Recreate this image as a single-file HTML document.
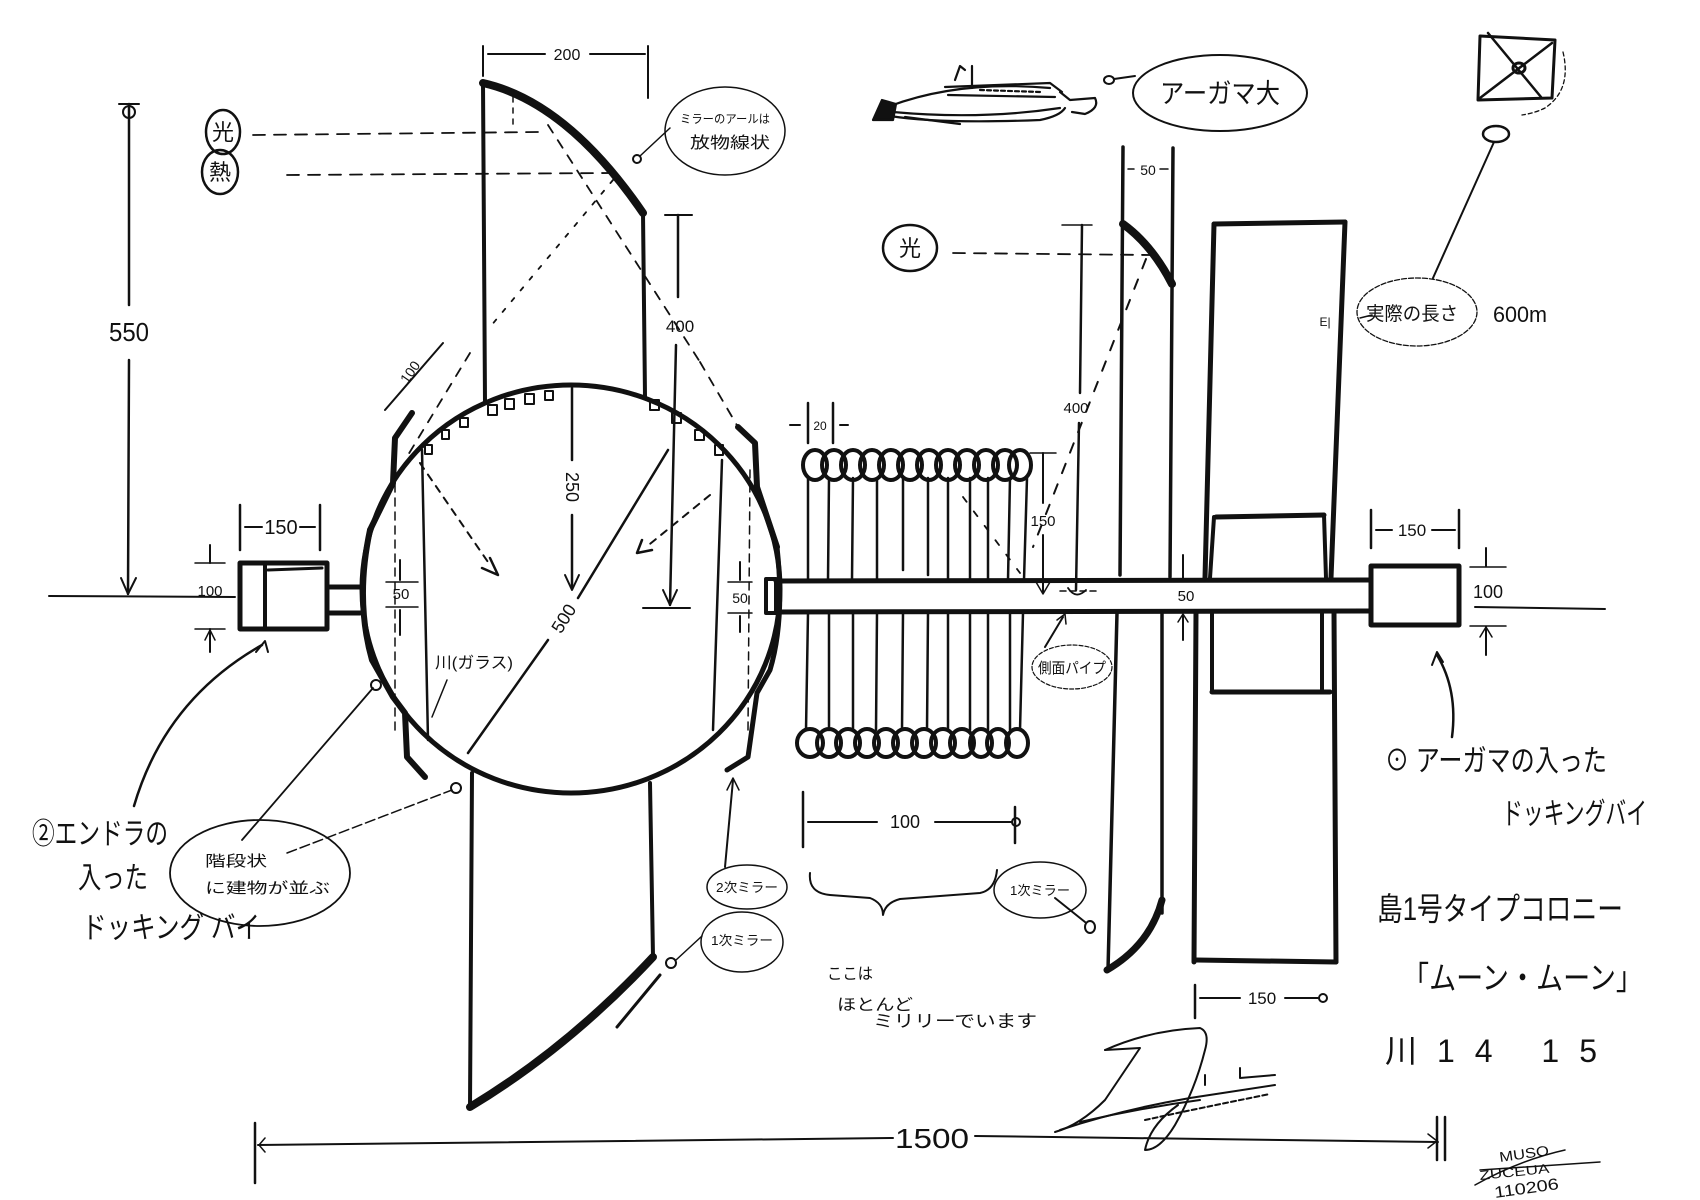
<!DOCTYPE html>
<html><head><meta charset="utf-8">
<style>
html,body{margin:0;padding:0;background:#fff;}
svg{display:block;}
text{font-family:"Liberation Sans","Noto Sans CJK JP",sans-serif;fill:#111;}
</style></head>
<body>
<svg width="1700" height="1200" viewBox="0 0 1700 1200" xmlns="http://www.w3.org/2000/svg">
<rect width="1700" height="1200" fill="#fff"/>
<g fill="none" stroke="#111" stroke-linecap="round" stroke-linejoin="round">

<!-- 550 dimension -->
<line x1="129" y1="104" x2="129" y2="305" stroke-width="2.5"/>
<line x1="129" y1="360" x2="128" y2="594" stroke-width="2.5"/>
<line x1="119" y1="104" x2="139" y2="104" stroke-width="2"/>
<circle cx="129" cy="112" r="6" stroke-width="2"/>
<polyline points="121,578 128,594 136,578" stroke-width="2"/>

<!-- left axis line -->
<line x1="49" y1="596" x2="235" y2="597" stroke-width="2"/>
<!-- right axis line -->
<line x1="1475" y1="607" x2="1605" y2="609" stroke-width="2"/>

<!-- left docking bay -->
<rect x="240" y="563" width="87" height="66" stroke-width="5"/>
<line x1="265" y1="563" x2="265" y2="629" stroke-width="4"/>
<line x1="268" y1="570" x2="322" y2="568" stroke-width="3"/>
<line x1="330" y1="587" x2="360" y2="587" stroke-width="5"/>
<line x1="330" y1="613" x2="360" y2="613" stroke-width="5"/>
<line x1="240" y1="505" x2="240" y2="550" stroke-width="2.5"/>
<line x1="320" y1="505" x2="320" y2="550" stroke-width="2.5"/>
<line x1="245" y1="527" x2="262" y2="527" stroke-width="2"/>
<line x1="300" y1="527" x2="315" y2="527" stroke-width="2"/>
<line x1="195" y1="563" x2="225" y2="563" stroke-width="1.5"/>
<line x1="195" y1="629" x2="225" y2="629" stroke-width="1.5"/>
<line x1="210" y1="545" x2="210" y2="563" stroke-width="2"/>
<line x1="210" y1="629" x2="210" y2="652" stroke-width="2"/>
<polyline points="205,640 210,630 215,640" stroke-width="1.5"/>

<!-- big circle -->
<ellipse cx="571" cy="589" rx="209" ry="204" stroke-width="5"/>
<g stroke-width="2">
<rect x="488" y="405" width="9" height="10"/>
<rect x="505" y="399" width="9" height="10"/>
<rect x="525" y="394" width="9" height="10"/>
<rect x="545" y="391" width="8" height="9"/>
<rect x="460" y="418" width="8" height="9"/>
<rect x="442" y="430" width="7" height="9"/>
<rect x="425" y="445" width="7" height="9"/>
<rect x="650" y="400" width="9" height="10"/>
<rect x="672" y="413" width="9" height="10"/>
<rect x="695" y="430" width="9" height="10"/>
<rect x="715" y="445" width="8" height="10"/>
</g>
<polyline points="412,413 395,438 393,483 370,530" stroke-width="6"/>
<path d="M370,530 Q355,600 372,660 L393,697 L405,713 L407,757 L425,777" stroke-width="6"/>
<polyline points="738,427 755,443 757,487 777,547" stroke-width="6"/>
<path d="M777,547 Q785,620 770,670 L757,693 L748,757 L727,770" stroke-width="5"/>
<line x1="422" y1="450" x2="428" y2="740" stroke-width="2.5"/>
<line x1="722" y1="460" x2="713" y2="730" stroke-width="2.5"/>
<line x1="395" y1="470" x2="395" y2="730" stroke-width="1.5" stroke-dasharray="8 6"/>
<line x1="750" y1="470" x2="748" y2="730" stroke-width="1.5" stroke-dasharray="8 6"/>
<line x1="572" y1="388" x2="572" y2="460" stroke-width="2.5"/>
<line x1="572" y1="515" x2="572" y2="588" stroke-width="2.5"/>
<polyline points="565,575 572,590 579,575" stroke-width="2"/>
<line x1="468" y1="753" x2="548" y2="640" stroke-width="2.5"/>
<line x1="578" y1="598" x2="668" y2="450" stroke-width="2.5"/>
<line x1="678" y1="215" x2="678" y2="297" stroke-width="2.5"/>
<line x1="676" y1="345" x2="670" y2="605" stroke-width="2.5"/>
<line x1="665" y1="215" x2="692" y2="215" stroke-width="2"/>
<line x1="643" y1="608" x2="690" y2="608" stroke-width="2"/>
<polyline points="663,590 670,605 677,590" stroke-width="2"/>
<line x1="420" y1="463" x2="490" y2="565" stroke-width="2" stroke-dasharray="7 7"/>
<path d="M482,568 L498,575 L490,558" stroke-width="2.5"/>
<line x1="710" y1="495" x2="645" y2="548" stroke-width="2" stroke-dasharray="7 7"/>
<path d="M642,540 L637,553 L652,550" stroke-width="2.5"/>
<line x1="386" y1="582" x2="418" y2="582" stroke-width="1.5"/>
<line x1="386" y1="607" x2="418" y2="607" stroke-width="1.5"/>
<line x1="400" y1="560" x2="400" y2="580" stroke-width="2"/>
<line x1="400" y1="610" x2="400" y2="635" stroke-width="2"/>
<line x1="728" y1="582" x2="752" y2="582" stroke-width="1.5"/>
<line x1="728" y1="613" x2="752" y2="613" stroke-width="1.5"/>
<line x1="740" y1="562" x2="740" y2="580" stroke-width="2"/>
<line x1="740" y1="616" x2="740" y2="632" stroke-width="2"/>
<line x1="447" y1="680" x2="432" y2="717" stroke-width="1.5"/>
<rect x="766" y="579" width="10" height="34" stroke-width="4"/>

<line x1="385" y1="410" x2="443" y2="343" stroke-width="2"/>

<!-- top mirror -->
<line x1="483" y1="83" x2="485" y2="403" stroke-width="4"/>
<line x1="643" y1="213" x2="645" y2="397" stroke-width="4"/>
<path d="M483,83 Q567,102 643,213" stroke-width="8"/>
<line x1="483" y1="46" x2="483" y2="76" stroke-width="2"/>
<line x1="648" y1="46" x2="648" y2="98" stroke-width="2"/>
<line x1="488" y1="54" x2="545" y2="54" stroke-width="2"/>
<line x1="590" y1="54" x2="645" y2="54" stroke-width="2"/>
<line x1="253" y1="135" x2="540" y2="132" stroke-width="1.8" stroke-dasharray="12 9"/>
<line x1="287" y1="175" x2="610" y2="173" stroke-width="1.8" stroke-dasharray="12 9"/>
<line x1="548" y1="125" x2="700" y2="362" stroke-width="1.8" stroke-dasharray="9 9"/>
<line x1="700" y1="362" x2="738" y2="427" stroke-width="1.8" stroke-dasharray="9 9"/>
<line x1="613" y1="180" x2="490" y2="327" stroke-width="1.8" stroke-dasharray="4 10"/>
<line x1="470" y1="353" x2="405" y2="460" stroke-width="1.8" stroke-dasharray="9 9"/>
<line x1="513" y1="97" x2="513" y2="128" stroke-width="1.5" stroke-dasharray="5 6"/>
<ellipse cx="223" cy="132" rx="17" ry="22" stroke-width="2.5"/>
<ellipse cx="220" cy="172" rx="18" ry="22" stroke-width="2.5"/>
<ellipse cx="725" cy="131" rx="60" ry="44" stroke-width="1.5"/>
<circle cx="637" cy="159" r="4" stroke-width="2"/>
<line x1="640" y1="156" x2="670" y2="128" stroke-width="1.5"/>

<!-- bottom mirror -->
<line x1="472" y1="773" x2="470" y2="1108" stroke-width="4"/>
<line x1="650" y1="783" x2="653" y2="957" stroke-width="4"/>
<path d="M470,1107 Q568,1048 653,957" stroke-width="8"/>
<line x1="617" y1="1027" x2="660" y2="975" stroke-width="3"/>
<ellipse cx="747" cy="887" rx="40" ry="22" stroke-width="1.5"/>
<ellipse cx="742" cy="942" rx="41" ry="30" stroke-width="1.5"/>
<line x1="725" y1="867" x2="733" y2="780" stroke-width="2"/>
<polyline points="727,790 733,778 739,790" stroke-width="1.5"/>
<circle cx="671" cy="963" r="5" stroke-width="2"/>
<line x1="676" y1="960" x2="702" y2="936" stroke-width="1.5"/>

<path d="M134,806 Q165,700 262,645" stroke-width="2.5"/>
<polyline points="256,652 265,641 268,652" stroke-width="2"/>
<ellipse cx="260" cy="873" rx="90" ry="53" stroke-width="1.8"/>
<line x1="242" y1="840" x2="373" y2="688" stroke-width="1.8"/>
<circle cx="376" cy="685" r="5" stroke-width="2"/>
<line x1="287" y1="853" x2="452" y2="790" stroke-width="1.5" stroke-dasharray="10 4"/>
<circle cx="456" cy="788" r="5" stroke-width="2"/>

<!-- tube -->
<line x1="776" y1="581" x2="1370" y2="580" stroke-width="5"/>
<line x1="776" y1="612" x2="1370" y2="611" stroke-width="5"/>

<g stroke-width="4">
<ellipse cx="815" cy="465" rx="12" ry="15"/>
<ellipse cx="834" cy="465" rx="12" ry="15"/>
<ellipse cx="853" cy="465" rx="12" ry="15"/>
<ellipse cx="872" cy="465" rx="12" ry="15"/>
<ellipse cx="891" cy="465" rx="12" ry="15"/>
<ellipse cx="910" cy="465" rx="12" ry="15"/>
<ellipse cx="929" cy="465" rx="12" ry="15"/>
<ellipse cx="948" cy="465" rx="12" ry="15"/>
<ellipse cx="967" cy="465" rx="12" ry="15"/>
<ellipse cx="986" cy="465" rx="12" ry="15"/>
<ellipse cx="1005" cy="465" rx="12" ry="15"/>
<ellipse cx="1020" cy="465" rx="11" ry="15"/>
</g>
<g stroke-width="4">
<ellipse cx="810" cy="743" rx="13" ry="14"/>
<ellipse cx="829" cy="743" rx="12" ry="14"/>
<ellipse cx="848" cy="743" rx="12" ry="14"/>
<ellipse cx="867" cy="743" rx="12" ry="14"/>
<ellipse cx="886" cy="743" rx="12" ry="14"/>
<ellipse cx="905" cy="743" rx="12" ry="14"/>
<ellipse cx="924" cy="743" rx="12" ry="14"/>
<ellipse cx="943" cy="743" rx="12" ry="14"/>
<ellipse cx="962" cy="743" rx="12" ry="14"/>
<ellipse cx="981" cy="743" rx="11" ry="14"/>
<ellipse cx="998" cy="743" rx="11" ry="14"/>
<ellipse cx="1017" cy="743" rx="11" ry="14"/>
</g>
<g stroke-width="2.5">
<line x1="808" y1="478" x2="808" y2="580"/><line x1="808" y1="613" x2="806" y2="730"/>
<line x1="829" y1="478" x2="828" y2="580"/><line x1="829" y1="613" x2="829" y2="730"/>
<line x1="853" y1="478" x2="852" y2="580"/><line x1="853" y1="613" x2="853" y2="730"/>
<line x1="877" y1="478" x2="877" y2="580"/><line x1="877" y1="613" x2="876" y2="730"/>
<line x1="903" y1="478" x2="903" y2="570"/><line x1="903" y1="613" x2="902" y2="730"/>
<line x1="928" y1="478" x2="928" y2="575"/><line x1="928" y1="613" x2="927" y2="730"/>
<line x1="948" y1="478" x2="948" y2="580"/><line x1="948" y1="613" x2="948" y2="730"/>
<line x1="970" y1="478" x2="970" y2="580"/><line x1="970" y1="613" x2="970" y2="730"/>
<line x1="988" y1="478" x2="988" y2="580"/><line x1="988" y1="613" x2="988" y2="730"/>
<line x1="1010" y1="478" x2="1008" y2="580"/><line x1="1010" y1="613" x2="1010" y2="730"/>
<line x1="1027" y1="478" x2="1024" y2="580"/><line x1="1023" y1="613" x2="1020" y2="730"/>
</g>
<line x1="963" y1="497" x2="1020" y2="573" stroke-width="1.8" stroke-dasharray="6 12"/>
<line x1="808" y1="403" x2="808" y2="443" stroke-width="2.5"/>
<line x1="833" y1="403" x2="833" y2="443" stroke-width="2.5"/>
<line x1="790" y1="425" x2="800" y2="425" stroke-width="2"/>
<line x1="840" y1="425" x2="848" y2="425" stroke-width="2"/>
<line x1="1030" y1="453" x2="1056" y2="453" stroke-width="1.5"/>
<line x1="1043" y1="453" x2="1043" y2="503" stroke-width="2"/>
<line x1="1043" y1="535" x2="1043" y2="593" stroke-width="2"/>
<polyline points="1036,582 1043,594 1050,582" stroke-width="1.5"/>
<line x1="1062" y1="225" x2="1092" y2="225" stroke-width="1.5"/>
<line x1="1082" y1="225" x2="1080" y2="393" stroke-width="2.5"/>
<line x1="1079" y1="423" x2="1076" y2="590" stroke-width="2.5"/>
<path d="M1068,588 Q1076,600 1086,590" stroke-width="1.8"/>
<line x1="1060" y1="591" x2="1100" y2="591" stroke-width="1.5" stroke-dasharray="6 4"/>
<ellipse cx="1072" cy="667" rx="40" ry="22" stroke-width="1.2" stroke-dasharray="4 2"/>
<line x1="1045" y1="647" x2="1063" y2="617" stroke-width="2"/>
<polyline points="1057,620 1065,614 1066,624" stroke-width="1.5"/>

<!-- right mirror -->
<line x1="1123" y1="147" x2="1120" y2="575" stroke-width="3.5"/>
<line x1="1173" y1="148" x2="1170" y2="577" stroke-width="3.5"/>
<path d="M1123,224 Q1152,245 1172,284" stroke-width="8"/>
<line x1="1117" y1="613" x2="1108" y2="970" stroke-width="3.5"/>
<line x1="1162" y1="613" x2="1162" y2="913" stroke-width="3.5"/>
<path d="M1107,970 Q1150,945 1162,900" stroke-width="7"/>
<line x1="953" y1="253" x2="1150" y2="255" stroke-width="1.8" stroke-dasharray="12 9"/>
<line x1="1146" y1="259" x2="1033" y2="547" stroke-width="2" stroke-dasharray="10 12"/>
<ellipse cx="910" cy="248" rx="27" ry="23" stroke-width="2.5"/>
<line x1="1128" y1="169" x2="1134" y2="169" stroke-width="1.5"/>
<line x1="1160" y1="169" x2="1168" y2="169" stroke-width="1.5"/>

<!-- big rectangle -->
<line x1="1214" y1="224" x2="1345" y2="222" stroke-width="5"/>
<line x1="1214" y1="224" x2="1205" y2="578" stroke-width="5"/>
<line x1="1345" y1="222" x2="1331" y2="578" stroke-width="5"/>
<line x1="1216" y1="517" x2="1324" y2="515" stroke-width="5"/>
<line x1="1324" y1="515" x2="1326" y2="578" stroke-width="4"/>
<line x1="1214" y1="517" x2="1210" y2="578" stroke-width="4"/>
<line x1="1196" y1="612" x2="1194" y2="962" stroke-width="5"/>
<line x1="1334" y1="612" x2="1336" y2="962" stroke-width="5"/>
<line x1="1196" y1="960" x2="1336" y2="962" stroke-width="5"/>
<line x1="1212" y1="692" x2="1330" y2="692" stroke-width="5"/>
<line x1="1212" y1="612" x2="1212" y2="692" stroke-width="4"/>
<line x1="1322" y1="612" x2="1322" y2="692" stroke-width="4"/>
<line x1="1183" y1="555" x2="1183" y2="578" stroke-width="2"/>
<line x1="1183" y1="615" x2="1183" y2="640" stroke-width="2"/>
<polyline points="1178,622 1183,614 1188,622" stroke-width="1.5"/>

<!-- right docking bay -->
<rect x="1371" y="566" width="88" height="59" stroke-width="5"/>
<line x1="1371" y1="510" x2="1371" y2="548" stroke-width="2.5"/>
<line x1="1459" y1="510" x2="1459" y2="548" stroke-width="2.5"/>
<line x1="1376" y1="530" x2="1392" y2="530" stroke-width="2"/>
<line x1="1432" y1="530" x2="1455" y2="530" stroke-width="2"/>
<line x1="1470" y1="567" x2="1506" y2="567" stroke-width="1.5"/>
<line x1="1470" y1="626" x2="1506" y2="626" stroke-width="1.5"/>
<line x1="1486" y1="548" x2="1486" y2="566" stroke-width="2"/>
<line x1="1486" y1="627" x2="1486" y2="655" stroke-width="2"/>
<polyline points="1480,637 1486,627 1492,637" stroke-width="1.5"/>
<path d="M1452,737 Q1458,690 1437,655" stroke-width="2.5"/>
<polyline points="1432,665 1437,652 1443,662" stroke-width="2"/>

<ellipse cx="1417" cy="312" rx="60" ry="34" stroke-width="1.3" stroke-dasharray="5 2"/>
<line x1="1433" y1="278" x2="1494" y2="142" stroke-width="2"/>
<ellipse cx="1496" cy="134" rx="13" ry="8" stroke-width="2.5"/>
<line x1="1360" y1="318" x2="1372" y2="315" stroke-width="1.5"/>
<polygon points="1480,36 1555,40 1552,98 1478,100" stroke-width="3"/>
<line x1="1488" y1="33" x2="1541" y2="97" stroke-width="2.5"/>
<line x1="1552" y1="43" x2="1480" y2="98" stroke-width="2.5"/>
<ellipse cx="1519" cy="68" rx="6" ry="5" stroke-width="3"/>
<path d="M1563,52 Q1572,90 1545,108 Q1535,113 1522,115" stroke-width="1.3" stroke-dasharray="4 3"/>

<!-- agama ship -->
<g stroke-width="2.2">
<path d="M873,120 L882,100 L896,104 L893,120 Z" fill="#111"/>
<path d="M890,106 Q960,80 1050,88"/>
<path d="M893,112 Q980,120 1060,108"/>
<path d="M890,116 Q940,124 1040,120 Q1060,116 1065,108"/>
<path d="M945,87 L1050,83 L1062,92"/>
<path d="M948,95 L1055,97"/>
<path d="M955,80 L960,66 L965,70"/>
<path d="M972,88 L972,66"/>
<path d="M1060,92 L1070,100 L1095,98 Q1100,108 1085,114 L1072,112"/>
<line x1="905" y1="117" x2="960" y2="124"/>
<line x1="980" y1="90" x2="1040" y2="92" stroke-dasharray="4 3"/>
</g>
<ellipse cx="1109" cy="80" rx="5" ry="4" stroke-width="2"/>
<line x1="1114" y1="79" x2="1135" y2="76" stroke-width="2"/>
<ellipse cx="1220" cy="93" rx="87" ry="38" stroke-width="2"/>

<!-- lower dimensions -->
<line x1="803" y1="792" x2="803" y2="847" stroke-width="2.5"/>
<line x1="1015" y1="807" x2="1015" y2="843" stroke-width="2.5"/>
<line x1="808" y1="822" x2="877" y2="822" stroke-width="2"/>
<line x1="935" y1="822" x2="1012" y2="822" stroke-width="2"/>
<circle cx="1016" cy="822" r="4" stroke-width="2"/>
<path d="M810,873 Q808,893 830,895 L870,898 Q883,903 883,915 Q885,903 900,899 L980,893 Q995,890 997,870" stroke-width="2"/>
<ellipse cx="1040" cy="890" rx="46" ry="28" stroke-width="1.5"/>
<line x1="1055" y1="898" x2="1085" y2="922" stroke-width="2"/>
<ellipse cx="1090" cy="927" rx="5" ry="6" stroke-width="2"/>
<line x1="1195" y1="985" x2="1195" y2="1018" stroke-width="2.5"/>
<line x1="1200" y1="998" x2="1240" y2="998" stroke-width="2"/>
<line x1="1285" y1="998" x2="1318" y2="998" stroke-width="2"/>
<circle cx="1323" cy="998" r="4" stroke-width="2"/>

<!-- 1500 line -->
<line x1="255" y1="1123" x2="255" y2="1183" stroke-width="2.5"/>
<line x1="258" y1="1145" x2="893" y2="1138" stroke-width="2"/>
<line x1="975" y1="1136" x2="1438" y2="1142" stroke-width="2"/>
<polyline points="265,1138 259,1145 265,1152" stroke-width="1.5"/>
<line x1="1437" y1="1117" x2="1437" y2="1160" stroke-width="2.5"/>
<line x1="1445" y1="1117" x2="1445" y2="1160" stroke-width="2.5"/>
<polyline points="1428,1134 1437,1141 1428,1148" stroke-width="1.5"/>

<!-- signature scribble -->
<g stroke-width="2">
<path d="M1105,1050 Q1150,1030 1200,1028 Q1210,1032 1205,1050 Q1195,1090 1175,1125 Q1160,1150 1145,1150 Q1150,1125 1178,1105"/>
<path d="M1105,1050 L1140,1048 L1105,1100 Q1080,1125 1055,1132"/>
<path d="M1060,1130 Q1120,1110 1190,1098 L1275,1085"/>
<path d="M1080,1122 Q1140,1108 1200,1100"/>
<path d="M1145,1120 Q1200,1108 1270,1094" stroke-dasharray="5 3"/>
<path d="M1205,1075 L1205,1085"/><path d="M1240,1068 L1240,1078 L1275,1075"/>
</g>
<g stroke-width="1.5">
<path d="M1475,1185 Q1520,1160 1565,1150"/>
<path d="M1480,1170 L1600,1162"/>
</g>
</g>

<!-- TEXT -->
<g>
<text x="129" y="341" font-size="26" text-anchor="middle" textLength="40" lengthAdjust="spacingAndGlyphs">550</text>
<text x="567" y="60" font-size="16" text-anchor="middle">200</text>
<text x="725" y="123" font-size="12" text-anchor="middle" textLength="90" lengthAdjust="spacingAndGlyphs">ミラーのアールは</text>
<text x="730" y="148" font-size="16" text-anchor="middle" textLength="80" lengthAdjust="spacingAndGlyphs">放物線状</text>
<text x="223" y="140" font-size="22" text-anchor="middle">光</text>
<text x="220" y="180" font-size="22" text-anchor="middle">熱</text>
<text x="680" y="332" font-size="17" text-anchor="middle">400</text>
<text x="410" y="377" font-size="14" text-anchor="middle" transform="rotate(-55 410 372)">100</text>
<text x="281" y="534" font-size="20" text-anchor="middle">150</text>
<text x="210" y="596" font-size="15" text-anchor="middle">100</text>
<text x="572" y="493" font-size="18" text-anchor="middle" transform="rotate(90 572 487)">250</text>
<text x="563" y="625" font-size="18" text-anchor="middle" transform="rotate(-58 563 618)">500</text>
<text x="401" y="599" font-size="15" text-anchor="middle">50</text>
<text x="740" y="603" font-size="14" text-anchor="middle">50</text>
<text x="474" y="668" font-size="16" text-anchor="middle" textLength="78" lengthAdjust="spacingAndGlyphs">川(ガラス)</text>
<text x="820" y="430" font-size="12" text-anchor="middle">20</text>
<text x="1043" y="526" font-size="15" text-anchor="middle">150</text>
<text x="1076" y="413" font-size="15" text-anchor="middle">400</text>
<text x="1186" y="601" font-size="15" text-anchor="middle">50</text>
<text x="1072" y="673" font-size="15" text-anchor="middle" textLength="68" lengthAdjust="spacingAndGlyphs">側面パイプ</text>
<text x="1148" y="175" font-size="14" text-anchor="middle">50</text>
<text x="910" y="256" font-size="22" text-anchor="middle">光</text>
<text x="1220" y="103" font-size="27" text-anchor="middle" textLength="120" lengthAdjust="spacingAndGlyphs">アーガマ大</text>
<text x="1412" y="320" font-size="19" text-anchor="middle" textLength="92" lengthAdjust="spacingAndGlyphs">実際の長さ</text>
<text x="1520" y="322" font-size="22" text-anchor="middle" textLength="54" lengthAdjust="spacingAndGlyphs">600m</text>
<text x="1325" y="326" font-size="12" text-anchor="middle">E|</text>
<text x="1412" y="536" font-size="17" text-anchor="middle">150</text>
<text x="1488" y="598" font-size="18" text-anchor="middle">100</text>
<text x="32" y="844" font-size="30" textLength="136" lengthAdjust="spacingAndGlyphs">②エンドラの</text>
<text x="78" y="888" font-size="30" textLength="70" lengthAdjust="spacingAndGlyphs">入った</text>
<text x="82" y="938" font-size="30" textLength="178" lengthAdjust="spacingAndGlyphs">ドッキング バイ</text>
<text x="205" y="866" font-size="15" textLength="62" lengthAdjust="spacingAndGlyphs">階段状</text>
<text x="205" y="893" font-size="15" textLength="125" lengthAdjust="spacingAndGlyphs">に建物が並ぶ</text>
<text x="905" y="828" font-size="18" text-anchor="middle">100</text>
<text x="747" y="892" font-size="13" text-anchor="middle" textLength="62" lengthAdjust="spacingAndGlyphs">2次ミラー</text>
<text x="742" y="945" font-size="13" text-anchor="middle" textLength="62" lengthAdjust="spacingAndGlyphs">1次ミラー</text>
<text x="1040" y="895" font-size="13" text-anchor="middle" textLength="60" lengthAdjust="spacingAndGlyphs">1次ミラー</text>
<text x="827" y="979" font-size="16" textLength="46" lengthAdjust="spacingAndGlyphs">ここは</text>
<text x="837" y="1010" font-size="16" textLength="76" lengthAdjust="spacingAndGlyphs">ほとんど</text>
<text x="873" y="1027" font-size="17" textLength="164" lengthAdjust="spacingAndGlyphs">ミリリーでいます</text>
<text x="1262" y="1004" font-size="17" text-anchor="middle">150</text>
<text x="932" y="1148" font-size="28" text-anchor="middle" textLength="74" lengthAdjust="spacingAndGlyphs">1500</text>
<text x="1385" y="771" font-size="30" textLength="222" lengthAdjust="spacingAndGlyphs">⊙ アーガマの入った</text>
<text x="1502" y="824" font-size="30" textLength="145" lengthAdjust="spacingAndGlyphs">ドッキングバイ</text>
<text x="1377" y="920" font-size="32" textLength="246" lengthAdjust="spacingAndGlyphs">島1号タイプコロニー</text>
<text x="1402" y="989" font-size="32" textLength="241" lengthAdjust="spacingAndGlyphs">「ムーン・ムーン」</text>
<text x="1385" y="1062" font-size="32" textLength="212" lengthAdjust="spacing">川14 15</text>
<text x="1500" y="1162" font-size="14" transform="rotate(-8 1500 1162)" textLength="50" lengthAdjust="spacingAndGlyphs">MUSO</text>
<text x="1480" y="1180" font-size="13" transform="rotate(-6 1480 1180)" textLength="70" lengthAdjust="spacingAndGlyphs">ZUCEUA</text>
<text x="1495" y="1198" font-size="16" transform="rotate(-8 1495 1198)" textLength="65" lengthAdjust="spacingAndGlyphs">110206</text>
</g>
</svg>
</body></html>
